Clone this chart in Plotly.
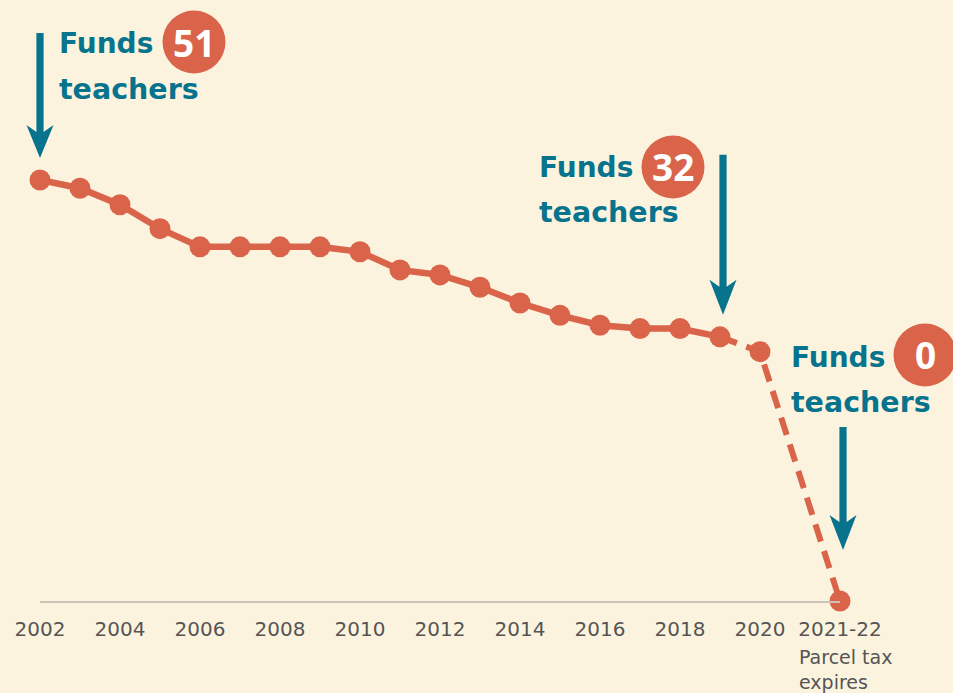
import plotly.graph_objects as go

# ---- data ----
years = [2002, 2003, 2004, 2005, 2006, 2007, 2008, 2009, 2010, 2011,
         2012, 2013, 2014, 2015, 2016, 2017, 2018, 2019, 2020, 2022]
teachers = [51, 50, 48, 45.1, 42.9, 42.9, 42.9, 42.9, 42.3, 40.1,
            39.5, 38.0, 36.1, 34.6, 33.4, 33.0, 33.0, 32, 30.2, 0]
tick_vals = [2002, 2004, 2006, 2008, 2010, 2012, 2014, 2016, 2018, 2020, 2022]
tick_text = ["2002", "2004", "2006", "2008", "2010", "2012", "2014", "2016",
             "2018", "2020", "2021-22"]
badge_values = [51, 32, 0]

BG = "#fcf3df"
ORANGE = "#d9644a"
TEAL = "#08738d"
GREY = "#555555"

W, H = 953, 693
ML, MR, MT, MB = 40, 113, 0, 92
PW, PH = W - ML - MR, H - MT - MB
X_RANGE = [2002, 2022]
Y_RANGE = [0, 72.8]

def px(x):
    return (x - ML) / PW

def py(y):
    return (MT + PH - y) / PH

def data_to_paper_x(v):
    return (v - X_RANGE[0]) / (X_RANGE[1] - X_RANGE[0])

def data_to_paper_y(v):
    return (v - Y_RANGE[0]) / (Y_RANGE[1] - Y_RANGE[0])

i_solid_end = years.index(2019)

fig = go.Figure()
# dashed projection
fig.add_trace(go.Scatter(
    x=years[i_solid_end:], y=teachers[i_solid_end:], mode="lines",
    line=dict(color=ORANGE, width=6, dash="18px,10px"),
    cliponaxis=False, hoverinfo="skip", showlegend=False))
# solid history
fig.add_trace(go.Scatter(
    x=years[:i_solid_end + 1], y=teachers[:i_solid_end + 1], mode="lines+markers",
    line=dict(color=ORANGE, width=6.5),
    marker=dict(color=ORANGE, size=21),
    cliponaxis=False, showlegend=False))
# projected markers
fig.add_trace(go.Scatter(
    x=years[i_solid_end + 1:], y=teachers[i_solid_end + 1:], mode="markers",
    marker=dict(color=ORANGE, size=21),
    cliponaxis=False, showlegend=False))

shapes = []
annotations = []

# arrows (pixel offsets relative to data points)
def arrow(xv, yv, dx, tip, corner, notch, tail, half_head=13.5, half_shaft=3.6):
    path = (f"M {dx-half_shaft},{tail} L {dx+half_shaft},{tail} "
            f"L {dx+half_shaft},{notch} L {dx+half_head},{corner} "
            f"L {dx},{tip} L {dx-half_head},{corner} "
            f"L {dx-half_shaft},{notch} Z")
    shapes.append(dict(type="path", xref="paper", yref="paper",
                       xsizemode="pixel", ysizemode="pixel",
                       xanchor=data_to_paper_x(xv), yanchor=data_to_paper_y(yv),
                       path=path, fillcolor=TEAL, line=dict(width=0),
                       layer="above"))

arrow(years[0], teachers[0], 0, 22, 55, 48, 147)
arrow(years[i_solid_end], teachers[i_solid_end], 3, 22, 57, 50, 182)
arrow(years[-1], teachers[-1], 3, 51, 86, 79, 174)

# labels "Funds N teachers"
label_specs = [
    # left, funds_center_y, teachers_center_y, badge_cx, badge_cy
    (57, 43, 90, 194, 42),
    (537, 168, 212, 673, 167),
    (789, 357, 402, 925, 355),
]
R = 31.5
for (lx, fy, ty, bx, by), val in zip(label_specs, badge_values):
    annotations.append(dict(xref="paper", yref="paper", x=px(lx), y=py(fy),
                            xanchor="left", yanchor="middle", showarrow=False,
                            text="<b>Funds</b>",
                            font=dict(family="DejaVu Sans", size=28, color=TEAL)))
    annotations.append(dict(xref="paper", yref="paper", x=px(lx), y=py(ty),
                            xanchor="left", yanchor="middle", showarrow=False,
                            text="<b>teachers</b>",
                            font=dict(family="DejaVu Sans", size=28.5, color=TEAL)))
    shapes.append(dict(type="circle", xref="paper", yref="paper",
                       x0=px(bx - R), x1=px(bx + R), y0=py(by + R), y1=py(by - R),
                       fillcolor=ORANGE, line=dict(width=0), layer="above"))
    annotations.append(dict(xref="paper", yref="paper", x=px(bx), y=py(by),
                            xanchor="center", yanchor="middle", showarrow=False,
                            text=f"<b>{val}</b>",
                            font=dict(family="Open Sans", size=37, color="white")))

annotations.append(dict(xref="x", yref="paper", x=years[-1], y=0, xshift=-43,
                        yshift=-43, xanchor="left", yanchor="top", align="left",
                        showarrow=False, text="Parcel tax<br>expires",
                        font=dict(family="DejaVu Sans", size=19, color=GREY)))

fig.update_layout(
    width=W, height=H,
    margin=dict(l=ML, r=MR, t=MT, b=MB),
    paper_bgcolor=BG, plot_bgcolor=BG,
    shapes=shapes, annotations=annotations,
    xaxis=dict(range=X_RANGE, tickvals=tick_vals, ticktext=tick_text,
               showgrid=False, zeroline=False, showline=True,
               linecolor="#c9c3b9", linewidth=2, ticks="",
               ticklabelstandoff=9,
               tickfont=dict(family="DejaVu Sans", size=20, color=GREY)),
    yaxis=dict(range=Y_RANGE, visible=False, showgrid=False, zeroline=False),
    showlegend=False,
)

fig.write_html(
    "out.html",
    config={"displayModeBar": False},
    post_script="document.body.style.margin='0';document.body.style.background='" + BG + "';",
)
